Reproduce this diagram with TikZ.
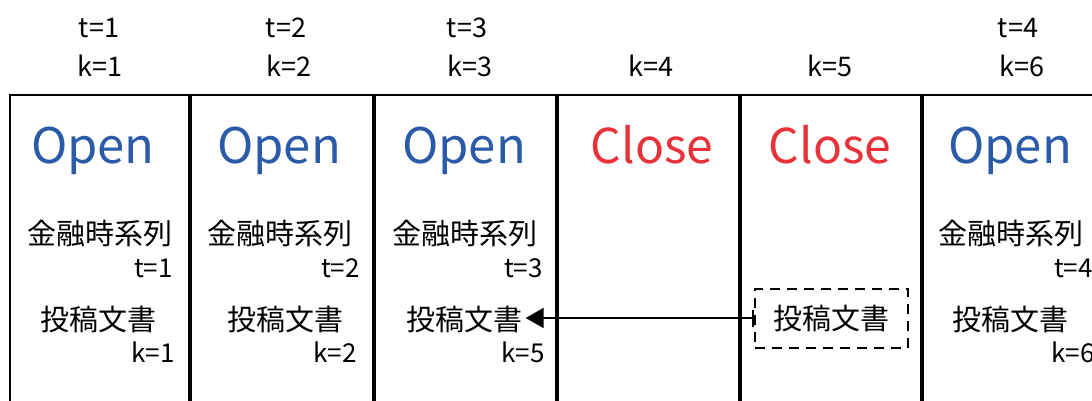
\documentclass[tikz,border=0pt]{standalone}
\usepackage{fontspec}
\setmainfont{Noto Sans CJK JP}
\usetikzlibrary{arrows.meta}
\definecolor{openblue}{HTML}{2B5AA8}
\definecolor{closered}{HTML}{E8323A}
\begin{document}
\begin{tikzpicture}[x=1pt,y=-1pt,
  toplab/.style={anchor=base,inner sep=0pt,font=\fontsize{27}{27}\selectfont},
  openlab/.style={anchor=base,inner sep=0pt,text=openblue,font=\fontsize{49}{49}\selectfont},
  closelab/.style={anchor=base,inner sep=0pt,text=closered,font=\fontsize{48}{48}\selectfont},
  jplab/.style={anchor=center,inner sep=3pt,font=\fontsize{29}{29}\selectfont},
  idxlab/.style={anchor=base east,inner sep=0pt,font=\fontsize{26}{26}\selectfont},
  sep/.style={line width=4pt},
  frame/.style={line width=2.5pt},
  docbox/.style={draw,line width=2pt,dash pattern=on 10pt off 7pt,minimum width=153pt,minimum height=59pt,inner sep=0pt,font=\fontsize{29}{29}\selectfont},
  conn/.style={line width=2pt,{Bar[width=17pt,line width=2pt]}-{Triangle[length=18pt,width=20pt]}}
]
\useasboundingbox (0,0) rectangle (1092,401);
\clip (0,0) rectangle (1092,401);
% frame
\draw[frame] (10,401) -- (10,95) -- (1094,95);
\foreach \x in {190,374,557,740,922} \draw[sep] (\x,94) -- (\x,402);
% top labels
\node[toplab] (t1) at (99,38) {t=1};
\node[toplab] (t2) at (286,38) {t=2};
\node[toplab] (t3) at (467,38) {t=3};
\node[toplab] (t4) at (1018,38) {t=4};
\node[toplab] (k1) at (100,77) {k=1};
\node[toplab] (k2) at (289,77) {k=2};
\node[toplab] (k3) at (470,77) {k=3};
\node[toplab] (k4) at (651,77) {k=4};
\node[toplab] (k5) at (830,77) {k=5};
\node[toplab] (k6) at (1022,77) {k=6};
% state labels
\node[openlab] (s1) at (93,164) {Open};
\node[openlab] (s2) at (279,164) {Open};
\node[openlab] (s3) at (464,164) {Open};
\node[closelab] (s4) at (652,164) {Close};
\node[closelab] (s5) at (830,164) {Close};
\node[openlab] (s6) at (1010,164) {Open};
% financial series
\node[jplab] (f1) at (100,234) {金融時系列};
\node[jplab] (f2) at (280,234) {金融時系列};
\node[jplab] (f3) at (464.5,234) {金融時系列};
\node[jplab] (f6) at (1010.5,234) {金融時系列};
\node[idxlab] (ft1) at (173,277) {t=1};
\node[idxlab] (ft2) at (360,277) {t=2};
\node[idxlab] (ft3) at (543,277) {t=3};
\node[idxlab] (ft6) at (1093,277) {t=4};
% documents
\node[jplab] (d1) at (98.5,319) {投稿文書};
\node[jplab] (d2) at (285,319) {投稿文書};
\node[jplab] (d3) at (464.5,319) {投稿文書};
\node[jplab] (d6) at (1010.5,319) {投稿文書};
\node[idxlab] (dk1) at (175,362) {k=1};
\node[idxlab] (dk2) at (357,362) {k=2};
\node[idxlab] (dk3) at (545,362) {k=5};
\node[idxlab] (dk6) at (1095,362) {k=6};
\node[docbox] (d5) at (831.5,318) {投稿文書};
% connector
\draw[conn] (d5.west) -- (d3.east |- d5.west);
\end{tikzpicture}
\end{document}
